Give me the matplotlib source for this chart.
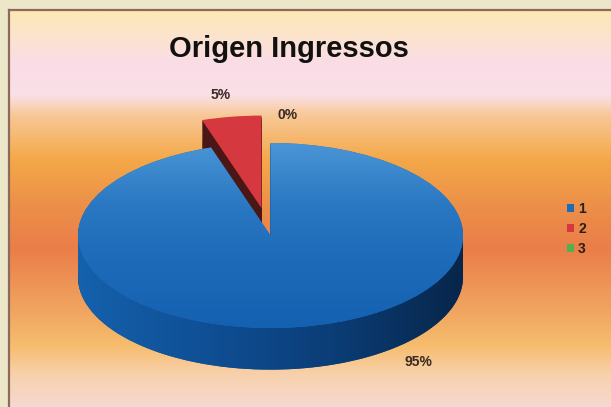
import numpy as np
import matplotlib.pyplot as plt
from matplotlib.colors import LinearSegmentedColormap
from matplotlib.patches import Polygon

# dados do grafico
titulo = 'Origen Ingressos'
categorias = ['1', '2', '3']
valores = [95, 5, 0]

# estilo / layout
cores_topo = ['#1E6CB9', '#D6383F', '#4FB04C']
cores_lado = ['#0E4E93', '#4A1616', '#2A6A2A']
explode = [0, 0.3, 0]
pos_rotulos = [(0.77, -1.37), (-0.26, 1.52), (0.09, 1.30)]
profundidade = 0.45
n_camadas = 40

plt.rcParams['font.family'] = ['Liberation Sans', 'DejaVu Sans']

fig = plt.figure(figsize=(6.11, 4.07), dpi=100)
fig.patch.set_facecolor('#ECE7C9')

# fundo com gradiente vertical (coordenadas em pixels)
fundo = fig.add_axes([9 / 611, -0.05, 1.0, 397 / 407 + 0.05])
paradas = [(10, '#FCE8B4'), (35, '#FCE4CC'), (65, '#FADCE8'), (95, '#FAE0E6'),
           (115, '#F8C898'), (160, '#F4A848'), (205, '#EC9048'), (250, '#EA7E4A'),
           (310, '#F0A460'), (345, '#F6BC6C'), (378, '#F8D2B0'), (427, '#F4DCE4')]
cmap_fundo = LinearSegmentedColormap.from_list(
    'fundo', [((y - 10) / 417, c) for y, c in paradas])
grad = np.linspace(0, 1, 500).reshape(-1, 1)
fundo.imshow(grad, cmap=cmap_fundo, aspect='auto', extent=(9, 620, 427, 10))
fundo.set_xlim(9, 620)
fundo.set_ylim(427, 10)
fundo.set_xticks([])
fundo.set_yticks([])
for s in fundo.spines.values():
    s.set_color('#8C6A5C')
    s.set_linewidth(1.6)

# pizza 3D: eixo com escala diferente em x e y (elipse)
px_x, px_y = 192.5, 92.5
cx, cy = 270.5, 235.5
xlim = (-1.05, 1.05)
ylim = (-1.6, 1.7)
ax = fig.add_axes([(cx + xlim[0] * px_x) / 611,
                   (407 - (cy - ylim[0] * px_y)) / 407,
                   (xlim[1] - xlim[0]) * px_x / 611,
                   (ylim[1] - ylim[0]) * px_y / 407])
ax.patch.set_alpha(0)

for k in range(n_camadas):
    z = -profundidade + profundidade * k / n_camadas
    ax.pie(valores, explode=explode, colors=cores_lado, center=(0, z),
           startangle=90, counterclock=False,
           wedgeprops=dict(linewidth=0, zorder=1))

topo, _ = ax.pie(valores, explode=explode, colors=cores_topo, center=(0, 0),
                 startangle=90, counterclock=False,
                 wedgeprops=dict(linewidth=0, zorder=3))

# lateral frontal com gradiente horizontal
cmap_lado = LinearSegmentedColormap.from_list(
    'lado', ['#1561AC', '#0F4F95', '#0B3D76', '#08264A'])
grad_h = np.linspace(0, 1, 300).reshape(1, -1)

for w, e in zip(topo, explode):
    t1, t2 = w.theta1, w.theta2
    mid = np.deg2rad((t1 + t2) / 2)
    ox, oy = e * np.cos(mid), e * np.sin(mid)
    for shift in (-360, 0, 360):
        lo, hi = max(t1 + shift, -180), min(t2 + shift, 0)
        if hi <= lo:
            continue
        t = np.deg2rad(np.linspace(lo, hi, 120))
        sup = np.column_stack([ox + np.cos(t), oy + np.sin(t)])
        inf = np.column_stack([ox + np.cos(t[::-1]), oy + np.sin(t[::-1]) - profundidade])
        banda = Polygon(np.vstack([sup, inf]), closed=True, facecolor='none',
                        edgecolor='none', zorder=2)
        ax.add_patch(banda)
        im = ax.imshow(grad_h, cmap=cmap_lado, aspect='auto',
                       extent=(-1, 1, -1 - profundidade, 1), zorder=2)
        im.set_clip_path(banda)

# topo azul com leve gradiente vertical
cmap_topo = LinearSegmentedColormap.from_list(
    'topo', ['#1461B1', '#1C6AB8', '#2A78C2', '#4A95D6'])
grad_v = np.linspace(0, 1, 300).reshape(-1, 1)
im = ax.imshow(grad_v, cmap=cmap_topo, aspect='auto', origin='lower',
               extent=(-1, 1, -1, 1), zorder=4)
im.set_clip_path(topo[0])

total = sum(valores)
for v, (x, y) in zip(valores, pos_rotulos):
    ax.text(x, y, f'{v / total * 100:.0f}%', ha='center', va='center',
            fontsize=10, fontweight='bold', color='#3A2A22', zorder=10)

ax.set_aspect('auto')
ax.set_xlim(*xlim)
ax.set_ylim(*ylim)
ax.axis('off')

fig.text(289 / 611, 1 - 57 / 407, titulo, ha='center', va='baseline',
         fontsize=21, fontweight='bold', color='#111111')

leg = fig.legend(topo, categorias, loc='center left',
                 bbox_to_anchor=(567 / 611, 1 - 229 / 407), frameon=False,
                 fontsize=10, handlelength=0.5, handleheight=0.5,
                 handletextpad=0.3, labelspacing=0.45, borderpad=0, borderaxespad=0)
for txt in leg.get_texts():
    txt.set_fontweight('bold')
    txt.set_color('#2B1E18')

fig.savefig('out.png', dpi=100, facecolor=fig.get_facecolor())
